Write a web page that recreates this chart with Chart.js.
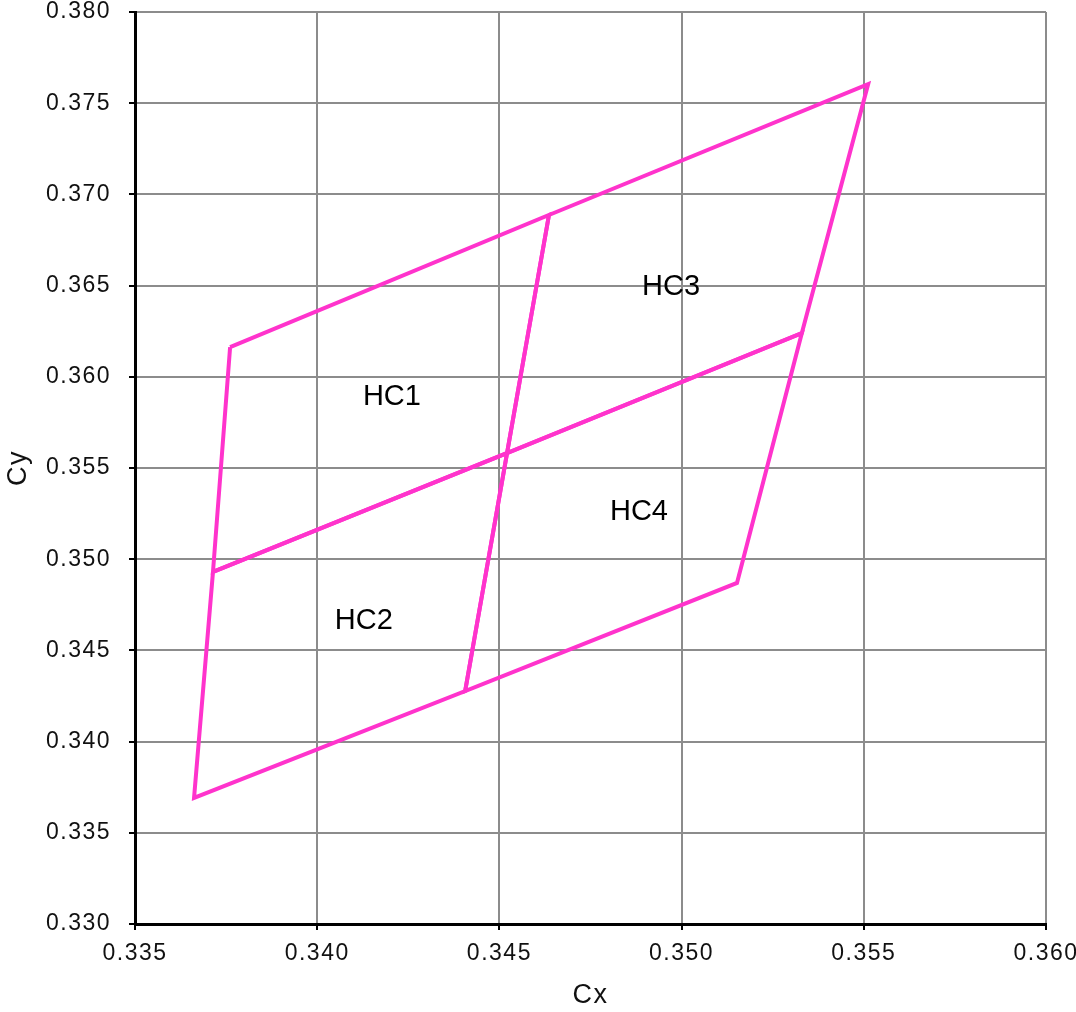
<!DOCTYPE html>
<html>
<head>
<meta charset="utf-8">
<script src="https://cdn.jsdelivr.net/npm/chart.js@4.4.1/dist/chart.umd.min.js"></script>
<style>
  body { margin: 0; background: #fff; }
</style>
</head>
<body>
<canvas id="myChart" width="1076" height="1012"></canvas>
<script>
// region names and the corners of each region (Cx, Cy), closed polygons
const regionNames = ['HC1', 'HC2', 'HC3', 'HC4'];

const hc1Cx = [0.33761, 0.34636, 0.34521, 0.33714, 0.33761];
const hc1Cy = [0.36163, 0.36887, 0.35582, 0.34930, 0.36163];

const hc2Cx = [0.33714, 0.34521, 0.34406, 0.33662, 0.33714];
const hc2Cy = [0.34930, 0.35582, 0.34277, 0.33691, 0.34930];

const hc3Cx = [0.34636, 0.35512, 0.35330, 0.34521, 0.34636];
const hc3Cy = [0.36887, 0.37605, 0.36240, 0.35582, 0.36887];

const hc4Cx = [0.34521, 0.35330, 0.35152, 0.34406, 0.34521];
const hc4Cy = [0.35582, 0.36240, 0.34870, 0.34277, 0.35582];

// where the region names sit
const labelCx = [0.34205, 0.34128, 0.34971, 0.34883];
const labelCy = [0.35889, 0.34661, 0.36492, 0.35259];

// axis ticks
const xTicks = [0.335, 0.340, 0.345, 0.350, 0.355, 0.360];
const yTicks = [0.330, 0.335, 0.340, 0.345, 0.350, 0.355, 0.360, 0.365, 0.370, 0.375, 0.380];

const lineColor = '#ff33cc';

// turn two arrays into points
function toPoints(xs, ys) {
  return xs.map((x, i) => ({ x: x, y: ys[i] }));
}

const allCx = [hc1Cx, hc2Cx, hc3Cx, hc4Cx];
const allCy = [hc1Cy, hc2Cy, hc3Cy, hc4Cy];

const datasets = regionNames.map((name, i) => ({
  label: name,
  data: toPoints(allCx[i], allCy[i]),
  showLine: true,
  borderColor: lineColor,
  borderWidth: 4,
  pointRadius: 0,
  pointHoverRadius: 0,
  fill: false,
  tension: 0
}));

// spacing the tick digits a little like the original
const spacingPlugin = {
  id: 'spacing',
  beforeDraw(chart) {
    chart.ctx.letterSpacing = '1.5px';
  }
};

// writes HC1..HC4 inside the regions
const regionLabels = {
  id: 'regionLabels',
  afterDatasetsDraw(chart) {
    const ctx = chart.ctx;
    const xScale = chart.scales.x;
    const yScale = chart.scales.y;
    ctx.save();
    ctx.letterSpacing = '0px';
    ctx.font = '29px "Liberation Sans", Arial, sans-serif';
    ctx.fillStyle = '#000';
    ctx.textAlign = 'center';
    ctx.textBaseline = 'middle';
    regionNames.forEach((name, i) => {
      ctx.fillText(name, xScale.getPixelForValue(labelCx[i]), yScale.getPixelForValue(labelCy[i]));
    });
    ctx.restore();
  }
};

function fixY(scale) {
  scale.width = 135;
  scale.paddingTop = 0;
  scale.paddingBottom = 0;
}

function fixX(scale) {
  scale.height = 88;
  scale.paddingLeft = 0;
  scale.paddingRight = 0;
}

const config = {
  type: 'scatter',
  data: { datasets: datasets },
  options: {
    responsive: false,
    animation: false,
    layout: { padding: { top: 12, right: 30, left: 0, bottom: 0 } },
    plugins: {
      legend: { display: false },
      tooltip: { enabled: false }
    },
    scales: {
      x: {
        type: 'linear',
        min: xTicks[0],
        max: xTicks[xTicks.length - 1],
        afterFit: fixX,
        afterBuildTicks: (scale) => { scale.ticks = xTicks.map(v => ({ value: v })); },
        ticks: {
          padding: 10,
          color: '#111',
          font: { family: '"Liberation Sans", Arial, sans-serif', size: 23 },
          callback: (v) => Number(v).toFixed(3)
        },
        grid: { color: '#8c8c8c', lineWidth: 2, tickColor: '#000', tickLength: 6, tickWidth: 2 },
        border: { color: '#000', width: 3 },
        title: {
          display: true,
          text: 'Cx',
          color: '#111',
          font: { family: '"Liberation Sans", Arial, sans-serif', size: 27 },
          padding: { top: 0, bottom: 0 }
        }
      },
      y: {
        type: 'linear',
        min: yTicks[0],
        max: yTicks[yTicks.length - 1],
        afterFit: fixY,
        afterBuildTicks: (scale) => { scale.ticks = yTicks.map(v => ({ value: v })); },
        ticks: {
          padding: 18,
          color: '#111',
          font: { family: '"Liberation Sans", Arial, sans-serif', size: 23 },
          callback: (v) => Number(v).toFixed(3)
        },
        grid: { color: '#8c8c8c', lineWidth: 2, tickColor: '#000', tickLength: 6, tickWidth: 2 },
        border: { color: '#000', width: 3 },
        title: {
          display: true,
          text: 'Cy',
          color: '#111',
          font: { family: '"Liberation Sans", Arial, sans-serif', size: 27 },
          padding: { top: 2, bottom: 0 }
        }
      }
    }
  },
  plugins: [spacingPlugin, regionLabels]
};

const myChart = new Chart(document.getElementById('myChart'), config);
</script>
</body>
</html>
